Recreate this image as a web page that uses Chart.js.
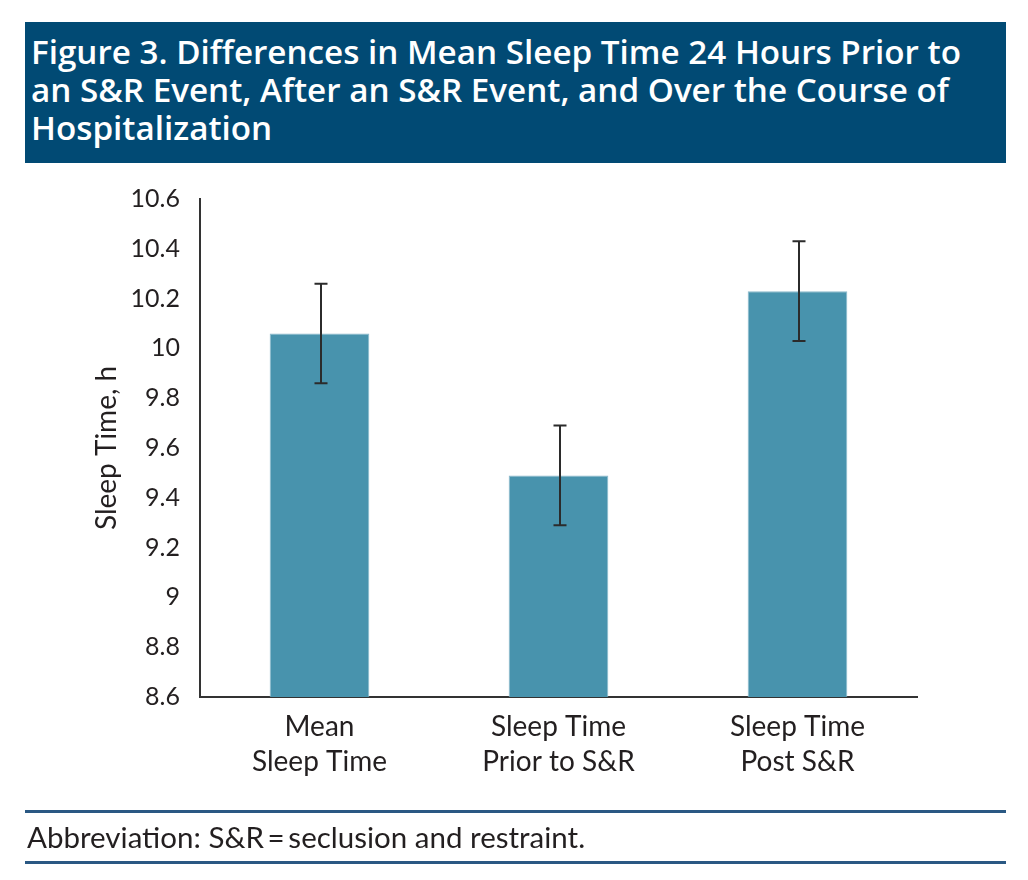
<!DOCTYPE html>
<html>
<head>
<meta charset="utf-8">
<script src="https://cdn.jsdelivr.net/npm/chart.js@4.4.1/dist/chart.umd.min.js"></script>
<style>
  html, body { margin: 0; padding: 0; background: #ffffff; }
  body { width: 1028px; height: 880px; position: relative; overflow: hidden; }
  #banner {
    position: absolute; left: 25px; top: 22px; width: 981px; height: 141px;
    background: #014a74;
  }
  #titleLines {
    position: absolute; left: 6px; top: 11px; transform-origin: 0 0;
    color: #ffffff; font-family: "Open Sans", sans-serif;
    font-weight: 600; font-size: 33px; line-height: 38px;
  }
  #titleLines div { white-space: nowrap; }
  #chartWrap { position: absolute; left: 0; top: 0; width: 1028px; height: 880px; }
  .rule { position: absolute; left: 25px; width: 981px; height: 3px; background: #2a5883; }
  #note {
    position: absolute; left: 27px; top: 819px; font-family: Lato, "Open Sans", sans-serif;
    font-size: 29.5px; line-height: 1.2; color: #231f20; white-space: nowrap;
  }
</style>
</head>
<body>
<div id="banner">
  <div id="titleLines">
    <div><span id="t1">Figure 3. Differences in Mean Sleep Time 24 Hours Prior to</span></div>
    <div>an S&amp;R Event, After an S&amp;R Event, and Over the Course of</div>
    <div>Hospitalization</div>
  </div>
</div>
<div id="chartWrap"><canvas id="c" width="1028" height="880"></canvas></div>
<div class="rule" style="top:810px"></div>
<div id="note">Abbreviation: S&amp;R&#8201;=&#8201;seclusion and restraint.</div>
<div class="rule" style="top:861px"></div>
<script>
const categories = [["Mean", "Sleep Time"], ["Sleep Time", "Prior to S&R"], ["Sleep Time", "Post S&R"]];
const sleepMeans = [10.06, 9.49, 10.23];
const errorLow = [9.86, 9.29, 10.03];
const errorHigh = [10.26, 9.69, 10.43];
const yMin = 8.6, yMax = 10.6, yStep = 0.2;

// fit the title's first line to the reference width
(function () {
  const w = document.getElementById('t1').getBoundingClientRect().width;
  const s = 930 / w;
  document.getElementById('titleLines').style.transform = 'scaleX(' + s + ')';
})();

const errorBars = {
  id: 'errorBars',
  afterDatasetsDraw(chart) {
    const ctx = chart.ctx;
    const meta = chart.getDatasetMeta(0);
    const y = chart.scales.y;
    ctx.save();
    ctx.strokeStyle = '#2b2b2b';
    ctx.lineWidth = 2;
    meta.data.forEach((bar, i) => {
      const x = bar.x + 1.5;
      const yHi = y.getPixelForValue(errorHigh[i]);
      const yLo = y.getPixelForValue(errorLow[i]);
      ctx.beginPath();
      ctx.moveTo(x, yHi); ctx.lineTo(x, yLo);
      ctx.moveTo(x - 6.5, yHi); ctx.lineTo(x + 6.5, yHi);
      ctx.moveTo(x - 6.5, yLo); ctx.lineTo(x + 6.5, yLo);
      ctx.stroke();
    });
    ctx.restore();
  }
};

new Chart(document.getElementById('c'), {
  type: 'bar',
  data: {
    labels: categories,
    datasets: [{
      data: sleepMeans,
      backgroundColor: '#4893ad',
      borderColor: '#8ab9cb',
      borderWidth: 1,
      categoryPercentage: 1.0,
      barPercentage: 0.417
    }]
  },
  options: {
    responsive: false,
    animation: false,
    devicePixelRatio: 1,
    layout: { padding: { left: 0, top: 199, right: 111, bottom: 0 } },
    plugins: { legend: { display: false }, tooltip: { enabled: false } },
    scales: {
      x: {
        grid: { display: false, drawTicks: false },
        border: { display: true, color: '#333333', width: 2 },
        ticks: {
          color: '#231f20', padding: 12,
          font: { family: 'Lato, "Open Sans", sans-serif', size: 28, lineHeight: 1.25 }
        },
        afterFit(scale) { scale.height = 183; }
      },
      y: {
        min: yMin, max: yMax,
        grid: { display: false, drawTicks: false },
        border: { display: true, color: '#333333', width: 2 },
        ticks: {
          stepSize: yStep, color: '#231f20', padding: 20,
          font: { family: 'Lato, "Open Sans", sans-serif', size: 25 },
          callback: (v) => String(Math.round(v * 10) / 10)
        },
        title: {
          display: true, text: 'Sleep Time, h', color: '#231f20',
          font: { family: 'Lato, "Open Sans", sans-serif', size: 28 },
          padding: { top: 90, bottom: 0 }
        },
        afterFit(scale) { scale.width = 200; }
      }
    }
  },
  plugins: [errorBars]
});
</script>
</body>
</html>
